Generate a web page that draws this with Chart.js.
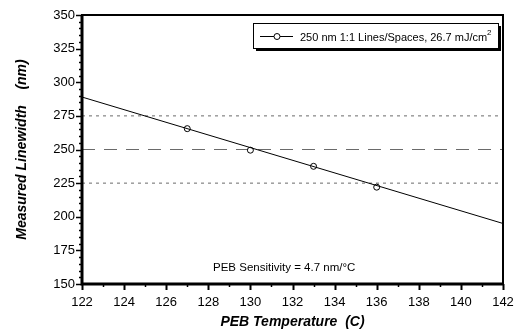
<!DOCTYPE html>
<html>
<head>
<meta charset="utf-8">
<script src="https://cdn.jsdelivr.net/npm/chart.js@4/dist/chart.umd.min.js"></script>
<style>
  html, body { margin: 0; padding: 0; background: #fff; }
  #wrap { width: 517px; height: 335px; }
</style>
</head>
<body>
<div id="wrap"><canvas id="pebChart" width="517" height="335"></canvas></div>
<script>
// measured points
const temps = [127, 130, 133, 136];
const linewidths = [265.5, 249.5, 237.5, 222];

// linear fit drawn across the whole axis
const fitTemps = [122, 142];
const fitWidths = [289, 195];

// horizontal reference levels
const refLevels = [275, 250, 225];
const refDashes = [[3, 4], [13, 9], [3, 4]];

const xMin = 122, xMax = 142;
const yMin = 150, yMax = 350;

const font = "'Liberation Sans', Arial, sans-serif";

const refSets = refLevels.map((lvl, i) => ({
    label: 'ref' + lvl,
    data: [{ x: xMin, y: lvl }, { x: xMax, y: lvl }],
    showLine: true,
    borderColor: '#6a6a6a',
    borderWidth: 1,
    borderDash: refDashes[i],
    pointRadius: 0
}));

// minor ticks, legend box and the note
const decorations = {
    id: 'decorations',
    afterDraw(chart) {
        const c = chart.ctx;
        const xs = chart.scales.x, ys = chart.scales.y;
        const area = chart.chartArea;
        c.save();
        c.strokeStyle = '#000';
        // x ticks
        for (let v = xMin; v <= xMax; v++) {
            const px = Math.round(xs.getPixelForValue(v)) + 0.5;
            const len = v % 2 === 0 ? 6 : 3;
            c.lineWidth = v % 2 === 0 ? 2 : 1.5;
            c.beginPath();
            c.moveTo(px, area.bottom);
            c.lineTo(px, area.bottom + len);
            c.stroke();
        }
        // y ticks
        for (let v = yMin; v <= yMax; v += 5) {
            const py = Math.round(ys.getPixelForValue(v)) + 0.5;
            const len = v % 25 === 0 ? 6 : 3;
            c.lineWidth = 1.5;
            c.beginPath();
            c.moveTo(area.left, py);
            c.lineTo(area.left - len, py);
            c.stroke();
        }
        // frame
        c.lineWidth = 2;
        c.strokeRect(area.left, area.top, area.right - area.left, area.bottom - area.top);
        c.lineWidth = 3;
        c.beginPath();
        c.moveTo(area.left, area.top);
        c.lineTo(area.left, area.bottom);
        c.lineTo(area.right, area.bottom);
        c.stroke();

        // legend box with drop shadow
        const bx = 253, by = 23, bw = 245, bh = 25;
        c.fillStyle = '#000';
        c.fillRect(bx + 3, by + 3, bw, bh);
        c.fillStyle = '#fff';
        c.fillRect(bx, by, bw, bh);
        c.lineWidth = 1;
        c.strokeRect(bx + 0.5, by + 0.5, bw, bh);
        const ly = by + 13.5;
        c.beginPath();
        c.moveTo(bx + 7, ly);
        c.lineTo(bx + 40, ly);
        c.stroke();
        c.beginPath();
        c.arc(bx + 24, ly, 3, 0, Math.PI * 2);
        c.fillStyle = '#fff';
        c.fill();
        c.stroke();
        c.fillStyle = '#000';
        c.font = '11px ' + font;
        c.textBaseline = 'middle';
        c.textAlign = 'left';
        const legendText = '250 nm 1:1 Lines/Spaces, 26.7 mJ/cm';
        c.fillText(legendText, bx + 47, ly + 1);
        const tw = c.measureText(legendText).width;
        c.font = '8px ' + font;
        c.fillText('2', bx + 47 + tw, ly - 4);

        // note
        c.font = '11.5px ' + font;
        c.fillText('PEB Sensitivity = 4.7 nm/°C', 213, 268);
        c.restore();
    }
};

new Chart(document.getElementById('pebChart'), {
    type: 'scatter',
    data: {
        datasets: [
            {
                label: 'fit',
                data: fitTemps.map((t, i) => ({ x: t, y: fitWidths[i] })),
                showLine: true,
                borderColor: '#000',
                borderWidth: 1,
                pointRadius: 0
            },
            {
                label: '250 nm 1:1 Lines/Spaces, 26.7 mJ/cm²',
                data: temps.map((t, i) => ({ x: t, y: linewidths[i] })),
                pointStyle: 'circle',
                pointRadius: 3,
                borderColor: '#000',
                backgroundColor: '#fff',
                borderWidth: 1
            },
            ...refSets
        ]
    },
    options: {
        responsive: false,
        animation: false,
        layout: { padding: { top: 15, right: 14, left: 0, bottom: 0 } },
        plugins: {
            legend: { display: false },
            tooltip: { enabled: false }
        },
        scales: {
            x: {
                type: 'linear',
                min: xMin,
                max: xMax,
                afterFit: (s) => {
                    s.height = 51;
                    s.paddingLeft = 0;
                    s.paddingRight = 0;
                },
                ticks: {
                    stepSize: 2,
                    color: '#000',
                    font: { family: font, size: 13 },
                    padding: 11,
                    maxRotation: 0
                },
                grid: { display: false, drawTicks: false },
                border: { display: false },
                title: {
                    display: true,
                    text: 'PEB Temperature  (C)',
                    color: '#000',
                    font: { family: font, size: 14, weight: 'bold', style: 'italic' },
                    padding: { top: 7 }
                }
            },
            y: {
                min: yMin,
                max: yMax,
                afterFit: (s) => { s.width = 82; },
                ticks: {
                    stepSize: 25,
                    color: '#000',
                    font: { family: font, size: 13 },
                    padding: 7
                },
                grid: { display: false, drawTicks: false },
                border: { display: false },
                title: {
                    display: true,
                    text: 'Measured Linewidth    (nm)',
                    color: '#000',
                    font: { family: font, size: 14, weight: 'bold', style: 'italic' },
                    padding: { top: 14, bottom: 8 }
                }
            }
        }
    },
    plugins: [decorations]
});
</script>
</body>
</html>
